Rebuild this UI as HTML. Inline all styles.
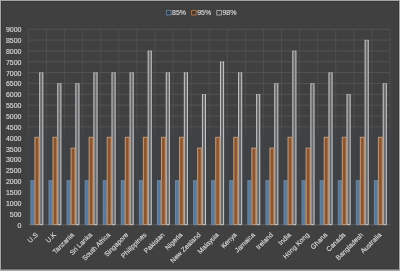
<!DOCTYPE html><html><head><meta charset="utf-8"><style>html,body{margin:0;padding:0;background:#404040;overflow:hidden}svg{display:block}text{font-family:"Liberation Sans",sans-serif}.xl{stroke:#d8d8d8;stroke-width:0.15px}</style></head><body>
<svg width="400" height="271" viewBox="0 0 400 271">
<defs><filter id="bl" x="-2%" y="-2%" width="104%" height="104%" color-interpolation-filters="sRGB"><feGaussianBlur stdDeviation="0.40"/></filter><filter id="sh" x="-20%" y="-5%" width="140%" height="110%"><feGaussianBlur stdDeviation="1.3"/></filter><linearGradient id="og" x1="0" x2="1" y1="0" y2="0"><stop offset="0" stop-color="#9a6a48"/><stop offset="0.3" stop-color="#8a552f"/><stop offset="0.55" stop-color="#87532e"/><stop offset="0.85" stop-color="#ab8060"/><stop offset="1" stop-color="#b08868"/></linearGradient></defs>
<rect width="400" height="271" fill="#404040"/>
<g filter="url(#bl)">
<path d="M28.40 29.20H390.00M28.40 40.05H390.00M28.40 50.90H390.00M28.40 61.75H390.00M28.40 72.60H390.00M28.40 83.45H390.00M28.40 94.30H390.00M28.40 105.15H390.00M28.40 116.00H390.00M28.40 126.85H390.00" stroke="#585858" stroke-width="0.80" fill="none"/>
<path d="M28.40 137.70H390.00M28.40 148.55H390.00M28.40 159.40H390.00M28.40 170.25H390.00M28.40 181.10H390.00M28.40 191.95H390.00M28.40 202.80H390.00M28.40 213.65H390.00M28.40 224.50H390.00" stroke="#4c4c4c" stroke-width="0.80" fill="none"/>
<path d="M28.40 29.20V224.50M46.48 29.20V224.50M64.56 29.20V224.50M82.64 29.20V224.50M100.72 29.20V224.50M118.80 29.20V224.50M136.88 29.20V224.50M154.96 29.20V224.50M173.04 29.20V224.50M191.12 29.20V224.50M209.20 29.20V224.50M227.28 29.20V224.50M245.36 29.20V224.50M263.44 29.20V224.50M281.52 29.20V224.50M299.60 29.20V224.50M317.68 29.20V224.50M335.76 29.20V224.50M353.84 29.20V224.50M371.92 29.20V224.50M390.00 29.20V224.50" stroke="#525252" stroke-width="0.80" fill="none"/>
<linearGradient id="tg" x1="0" x2="0" y1="0" y2="1"><stop offset="0" stop-color="#3f4246" stop-opacity="0"/><stop offset="0.093" stop-color="#3f4246" stop-opacity="0.85"/><stop offset="1" stop-color="#3f4246" stop-opacity="0.85"/></linearGradient>
<rect x="27.80" y="127.70" width="362.80" height="96.80" fill="url(#tg)"/>
<path d="M28.40 224.80H390.00" stroke="#5c5c5c" stroke-width="0.9"/>
<rect x="39.25" y="72.40" width="4.00" height="152.70" fill="#66686b"/>
<path d="M39.70 72.85H42.80" stroke="#9a9a9a" stroke-width="0.9"/>
<path d="M39.70 72.40V224.65M42.80 72.40V224.65H39.70" stroke="#d2d2d2" stroke-width="0.9" fill="none"/>
<rect x="34.90" y="137.30" width="4.50" height="87.30" fill="url(#og)" stroke="#c09878" stroke-width="1.00"/>
<rect x="30.90" y="180.70" width="3.10" height="43.90" fill="#56789a" stroke="#7088a2" stroke-width="1.00"/>
<rect x="33.80" y="180.70" width="1.10" height="44.40" fill="#8c8680"/>
<rect x="57.33" y="83.25" width="4.00" height="141.85" fill="#66686b"/>
<path d="M57.78 83.70H60.88" stroke="#9a9a9a" stroke-width="0.9"/>
<path d="M57.78 83.25V224.65M60.88 83.25V224.65H57.78" stroke="#d2d2d2" stroke-width="0.9" fill="none"/>
<rect x="52.98" y="137.30" width="4.50" height="87.30" fill="url(#og)" stroke="#c09878" stroke-width="1.00"/>
<rect x="48.98" y="180.70" width="3.10" height="43.90" fill="#56789a" stroke="#7088a2" stroke-width="1.00"/>
<rect x="51.88" y="180.70" width="1.10" height="44.40" fill="#8c8680"/>
<rect x="75.41" y="83.25" width="4.00" height="141.85" fill="#66686b"/>
<path d="M75.86 83.70H78.96" stroke="#9a9a9a" stroke-width="0.9"/>
<path d="M75.86 83.25V224.65M78.96 83.25V224.65H75.86" stroke="#d2d2d2" stroke-width="0.9" fill="none"/>
<rect x="71.06" y="148.15" width="4.50" height="76.45" fill="url(#og)" stroke="#c09878" stroke-width="1.00"/>
<rect x="67.06" y="180.70" width="3.10" height="43.90" fill="#56789a" stroke="#7088a2" stroke-width="1.00"/>
<rect x="69.96" y="180.70" width="1.10" height="44.40" fill="#8c8680"/>
<rect x="93.49" y="72.40" width="4.00" height="152.70" fill="#66686b"/>
<path d="M93.94 72.85H97.04" stroke="#9a9a9a" stroke-width="0.9"/>
<path d="M93.94 72.40V224.65M97.04 72.40V224.65H93.94" stroke="#d2d2d2" stroke-width="0.9" fill="none"/>
<rect x="89.14" y="137.30" width="4.50" height="87.30" fill="url(#og)" stroke="#c09878" stroke-width="1.00"/>
<rect x="85.14" y="180.70" width="3.10" height="43.90" fill="#56789a" stroke="#7088a2" stroke-width="1.00"/>
<rect x="88.04" y="180.70" width="1.10" height="44.40" fill="#8c8680"/>
<rect x="111.57" y="72.40" width="4.00" height="152.70" fill="#66686b"/>
<path d="M112.02 72.85H115.12" stroke="#9a9a9a" stroke-width="0.9"/>
<path d="M112.02 72.40V224.65M115.12 72.40V224.65H112.02" stroke="#d2d2d2" stroke-width="0.9" fill="none"/>
<rect x="107.22" y="137.30" width="4.50" height="87.30" fill="url(#og)" stroke="#c09878" stroke-width="1.00"/>
<rect x="103.22" y="180.70" width="3.10" height="43.90" fill="#56789a" stroke="#7088a2" stroke-width="1.00"/>
<rect x="106.12" y="180.70" width="1.10" height="44.40" fill="#8c8680"/>
<rect x="129.65" y="72.40" width="4.00" height="152.70" fill="#66686b"/>
<path d="M130.10 72.85H133.20" stroke="#9a9a9a" stroke-width="0.9"/>
<path d="M130.10 72.40V224.65M133.20 72.40V224.65H130.10" stroke="#d2d2d2" stroke-width="0.9" fill="none"/>
<rect x="125.30" y="137.30" width="4.50" height="87.30" fill="url(#og)" stroke="#c09878" stroke-width="1.00"/>
<rect x="121.30" y="180.70" width="3.10" height="43.90" fill="#56789a" stroke="#7088a2" stroke-width="1.00"/>
<rect x="124.20" y="180.70" width="1.10" height="44.40" fill="#8c8680"/>
<rect x="147.73" y="50.70" width="4.00" height="174.40" fill="#66686b"/>
<path d="M148.18 51.15H151.28" stroke="#9a9a9a" stroke-width="0.9"/>
<path d="M148.18 50.70V224.65M151.28 50.70V224.65H148.18" stroke="#d2d2d2" stroke-width="0.9" fill="none"/>
<rect x="143.38" y="137.30" width="4.50" height="87.30" fill="url(#og)" stroke="#c09878" stroke-width="1.00"/>
<rect x="139.38" y="180.70" width="3.10" height="43.90" fill="#56789a" stroke="#7088a2" stroke-width="1.00"/>
<rect x="142.28" y="180.70" width="1.10" height="44.40" fill="#8c8680"/>
<rect x="165.81" y="72.40" width="4.00" height="152.70" fill="#66686b"/>
<path d="M166.26 72.85H169.36" stroke="#9a9a9a" stroke-width="0.9"/>
<path d="M166.26 72.40V224.65M169.36 72.40V224.65H166.26" stroke="#d2d2d2" stroke-width="0.9" fill="none"/>
<rect x="161.46" y="137.30" width="4.50" height="87.30" fill="url(#og)" stroke="#c09878" stroke-width="1.00"/>
<rect x="157.46" y="180.70" width="3.10" height="43.90" fill="#56789a" stroke="#7088a2" stroke-width="1.00"/>
<rect x="160.36" y="180.70" width="1.10" height="44.40" fill="#8c8680"/>
<rect x="183.89" y="72.40" width="4.00" height="152.70" fill="#66686b"/>
<path d="M184.34 72.85H187.44" stroke="#9a9a9a" stroke-width="0.9"/>
<path d="M184.34 72.40V224.65M187.44 72.40V224.65H184.34" stroke="#d2d2d2" stroke-width="0.9" fill="none"/>
<rect x="179.54" y="137.30" width="4.50" height="87.30" fill="url(#og)" stroke="#c09878" stroke-width="1.00"/>
<rect x="175.54" y="180.70" width="3.10" height="43.90" fill="#56789a" stroke="#7088a2" stroke-width="1.00"/>
<rect x="178.44" y="180.70" width="1.10" height="44.40" fill="#8c8680"/>
<rect x="201.97" y="94.10" width="4.00" height="131.00" fill="#66686b"/>
<path d="M202.42 94.55H205.52" stroke="#9a9a9a" stroke-width="0.9"/>
<path d="M202.42 94.10V224.65M205.52 94.10V224.65H202.42" stroke="#d2d2d2" stroke-width="0.9" fill="none"/>
<rect x="197.62" y="148.15" width="4.50" height="76.45" fill="url(#og)" stroke="#c09878" stroke-width="1.00"/>
<rect x="193.62" y="180.70" width="3.10" height="43.90" fill="#56789a" stroke="#7088a2" stroke-width="1.00"/>
<rect x="196.52" y="180.70" width="1.10" height="44.40" fill="#8c8680"/>
<rect x="220.05" y="61.55" width="4.00" height="163.55" fill="#66686b"/>
<path d="M220.50 62.00H223.60" stroke="#9a9a9a" stroke-width="0.9"/>
<path d="M220.50 61.55V224.65M223.60 61.55V224.65H220.50" stroke="#d2d2d2" stroke-width="0.9" fill="none"/>
<rect x="215.70" y="137.30" width="4.50" height="87.30" fill="url(#og)" stroke="#c09878" stroke-width="1.00"/>
<rect x="211.70" y="180.70" width="3.10" height="43.90" fill="#56789a" stroke="#7088a2" stroke-width="1.00"/>
<rect x="214.60" y="180.70" width="1.10" height="44.40" fill="#8c8680"/>
<rect x="238.13" y="72.40" width="4.00" height="152.70" fill="#66686b"/>
<path d="M238.58 72.85H241.68" stroke="#9a9a9a" stroke-width="0.9"/>
<path d="M238.58 72.40V224.65M241.68 72.40V224.65H238.58" stroke="#d2d2d2" stroke-width="0.9" fill="none"/>
<rect x="233.78" y="137.30" width="4.50" height="87.30" fill="url(#og)" stroke="#c09878" stroke-width="1.00"/>
<rect x="229.78" y="180.70" width="3.10" height="43.90" fill="#56789a" stroke="#7088a2" stroke-width="1.00"/>
<rect x="232.68" y="180.70" width="1.10" height="44.40" fill="#8c8680"/>
<rect x="256.21" y="94.10" width="4.00" height="131.00" fill="#66686b"/>
<path d="M256.66 94.55H259.76" stroke="#9a9a9a" stroke-width="0.9"/>
<path d="M256.66 94.10V224.65M259.76 94.10V224.65H256.66" stroke="#d2d2d2" stroke-width="0.9" fill="none"/>
<rect x="251.86" y="148.15" width="4.50" height="76.45" fill="url(#og)" stroke="#c09878" stroke-width="1.00"/>
<rect x="247.86" y="180.70" width="3.10" height="43.90" fill="#56789a" stroke="#7088a2" stroke-width="1.00"/>
<rect x="250.76" y="180.70" width="1.10" height="44.40" fill="#8c8680"/>
<rect x="274.29" y="83.25" width="4.00" height="141.85" fill="#66686b"/>
<path d="M274.74 83.70H277.84" stroke="#9a9a9a" stroke-width="0.9"/>
<path d="M274.74 83.25V224.65M277.84 83.25V224.65H274.74" stroke="#d2d2d2" stroke-width="0.9" fill="none"/>
<rect x="269.94" y="148.15" width="4.50" height="76.45" fill="url(#og)" stroke="#c09878" stroke-width="1.00"/>
<rect x="265.94" y="180.70" width="3.10" height="43.90" fill="#56789a" stroke="#7088a2" stroke-width="1.00"/>
<rect x="268.84" y="180.70" width="1.10" height="44.40" fill="#8c8680"/>
<rect x="292.37" y="50.70" width="4.00" height="174.40" fill="#66686b"/>
<path d="M292.82 51.15H295.92" stroke="#9a9a9a" stroke-width="0.9"/>
<path d="M292.82 50.70V224.65M295.92 50.70V224.65H292.82" stroke="#d2d2d2" stroke-width="0.9" fill="none"/>
<rect x="288.02" y="137.30" width="4.50" height="87.30" fill="url(#og)" stroke="#c09878" stroke-width="1.00"/>
<rect x="284.02" y="180.70" width="3.10" height="43.90" fill="#56789a" stroke="#7088a2" stroke-width="1.00"/>
<rect x="286.92" y="180.70" width="1.10" height="44.40" fill="#8c8680"/>
<rect x="310.45" y="83.25" width="4.00" height="141.85" fill="#66686b"/>
<path d="M310.90 83.70H314.00" stroke="#9a9a9a" stroke-width="0.9"/>
<path d="M310.90 83.25V224.65M314.00 83.25V224.65H310.90" stroke="#d2d2d2" stroke-width="0.9" fill="none"/>
<rect x="306.10" y="148.15" width="4.50" height="76.45" fill="url(#og)" stroke="#c09878" stroke-width="1.00"/>
<rect x="302.10" y="180.70" width="3.10" height="43.90" fill="#56789a" stroke="#7088a2" stroke-width="1.00"/>
<rect x="305.00" y="180.70" width="1.10" height="44.40" fill="#8c8680"/>
<rect x="328.53" y="72.40" width="4.00" height="152.70" fill="#66686b"/>
<path d="M328.98 72.85H332.08" stroke="#9a9a9a" stroke-width="0.9"/>
<path d="M328.98 72.40V224.65M332.08 72.40V224.65H328.98" stroke="#d2d2d2" stroke-width="0.9" fill="none"/>
<rect x="324.18" y="137.30" width="4.50" height="87.30" fill="url(#og)" stroke="#c09878" stroke-width="1.00"/>
<rect x="320.18" y="180.70" width="3.10" height="43.90" fill="#56789a" stroke="#7088a2" stroke-width="1.00"/>
<rect x="323.08" y="180.70" width="1.10" height="44.40" fill="#8c8680"/>
<rect x="346.61" y="94.10" width="4.00" height="131.00" fill="#66686b"/>
<path d="M347.06 94.55H350.16" stroke="#9a9a9a" stroke-width="0.9"/>
<path d="M347.06 94.10V224.65M350.16 94.10V224.65H347.06" stroke="#d2d2d2" stroke-width="0.9" fill="none"/>
<rect x="342.26" y="137.30" width="4.50" height="87.30" fill="url(#og)" stroke="#c09878" stroke-width="1.00"/>
<rect x="338.26" y="180.70" width="3.10" height="43.90" fill="#56789a" stroke="#7088a2" stroke-width="1.00"/>
<rect x="341.16" y="180.70" width="1.10" height="44.40" fill="#8c8680"/>
<rect x="364.69" y="39.85" width="4.00" height="185.25" fill="#66686b"/>
<path d="M365.14 40.30H368.24" stroke="#9a9a9a" stroke-width="0.9"/>
<path d="M365.14 39.85V224.65M368.24 39.85V224.65H365.14" stroke="#d2d2d2" stroke-width="0.9" fill="none"/>
<rect x="360.34" y="137.30" width="4.50" height="87.30" fill="url(#og)" stroke="#c09878" stroke-width="1.00"/>
<rect x="356.34" y="180.70" width="3.10" height="43.90" fill="#56789a" stroke="#7088a2" stroke-width="1.00"/>
<rect x="359.24" y="180.70" width="1.10" height="44.40" fill="#8c8680"/>
<rect x="382.77" y="83.25" width="4.00" height="141.85" fill="#66686b"/>
<path d="M383.22 83.70H386.32" stroke="#9a9a9a" stroke-width="0.9"/>
<path d="M383.22 83.25V224.65M386.32 83.25V224.65H383.22" stroke="#d2d2d2" stroke-width="0.9" fill="none"/>
<rect x="378.42" y="137.30" width="4.50" height="87.30" fill="url(#og)" stroke="#c09878" stroke-width="1.00"/>
<rect x="374.42" y="180.70" width="3.10" height="43.90" fill="#56789a" stroke="#7088a2" stroke-width="1.00"/>
<rect x="377.32" y="180.70" width="1.10" height="44.40" fill="#8c8680"/>
<text x="21.5" y="32.20" class="xl" font-size="7" fill="#d8d8d8" text-anchor="end">9000</text>
<text x="21.5" y="43.05" class="xl" font-size="7" fill="#d8d8d8" text-anchor="end">8500</text>
<text x="21.5" y="53.90" class="xl" font-size="7" fill="#d8d8d8" text-anchor="end">8000</text>
<text x="21.5" y="64.75" class="xl" font-size="7" fill="#d8d8d8" text-anchor="end">7500</text>
<text x="21.5" y="75.60" class="xl" font-size="7" fill="#d8d8d8" text-anchor="end">7000</text>
<text x="21.5" y="86.45" class="xl" font-size="7" fill="#d8d8d8" text-anchor="end">6500</text>
<text x="21.5" y="97.30" class="xl" font-size="7" fill="#d8d8d8" text-anchor="end">6000</text>
<text x="21.5" y="108.15" class="xl" font-size="7" fill="#d8d8d8" text-anchor="end">5500</text>
<text x="21.5" y="119.00" class="xl" font-size="7" fill="#d8d8d8" text-anchor="end">5000</text>
<text x="21.5" y="129.85" class="xl" font-size="7" fill="#d8d8d8" text-anchor="end">4500</text>
<text x="21.5" y="140.70" class="xl" font-size="7" fill="#d8d8d8" text-anchor="end">4000</text>
<text x="21.5" y="151.55" class="xl" font-size="7" fill="#d8d8d8" text-anchor="end">3500</text>
<text x="21.5" y="162.40" class="xl" font-size="7" fill="#d8d8d8" text-anchor="end">3000</text>
<text x="21.5" y="173.25" class="xl" font-size="7" fill="#d8d8d8" text-anchor="end">2500</text>
<text x="21.5" y="184.10" class="xl" font-size="7" fill="#d8d8d8" text-anchor="end">2000</text>
<text x="21.5" y="194.95" class="xl" font-size="7" fill="#d8d8d8" text-anchor="end">1500</text>
<text x="21.5" y="205.80" class="xl" font-size="7" fill="#d8d8d8" text-anchor="end">1000</text>
<text x="21.5" y="216.65" class="xl" font-size="7" fill="#d8d8d8" text-anchor="end">500</text>
<text x="21.5" y="227.50" class="xl" font-size="7" fill="#d8d8d8" text-anchor="end">0</text>
<text transform="translate(38.34 235.3) rotate(-45)" class="xl" font-size="6.75" fill="#d8d8d8" text-anchor="end">U.S</text>
<text transform="translate(56.42 235.3) rotate(-45)" class="xl" font-size="6.75" fill="#d8d8d8" text-anchor="end">U.K</text>
<text transform="translate(74.50 235.3) rotate(-45)" class="xl" font-size="6.75" fill="#d8d8d8" text-anchor="end">Tanzania</text>
<text transform="translate(92.58 235.3) rotate(-45)" class="xl" font-size="6.75" fill="#d8d8d8" text-anchor="end">Sri Lanka</text>
<text transform="translate(110.66 235.3) rotate(-45)" class="xl" font-size="6.75" fill="#d8d8d8" text-anchor="end">South Africa</text>
<text transform="translate(128.74 235.3) rotate(-45)" class="xl" font-size="6.75" fill="#d8d8d8" text-anchor="end">Singapore</text>
<text transform="translate(146.82 235.3) rotate(-45)" class="xl" font-size="6.75" fill="#d8d8d8" text-anchor="end">Philippines</text>
<text transform="translate(164.90 235.3) rotate(-45)" class="xl" font-size="6.75" fill="#d8d8d8" text-anchor="end">Pakistan</text>
<text transform="translate(182.98 235.3) rotate(-45)" class="xl" font-size="6.75" fill="#d8d8d8" text-anchor="end">Nigeria</text>
<text transform="translate(201.06 235.3) rotate(-45)" class="xl" font-size="6.75" fill="#d8d8d8" text-anchor="end">New Zealand</text>
<text transform="translate(219.14 235.3) rotate(-45)" class="xl" font-size="6.75" fill="#d8d8d8" text-anchor="end">Malaysia</text>
<text transform="translate(237.22 235.3) rotate(-45)" class="xl" font-size="6.75" fill="#d8d8d8" text-anchor="end">Kenya</text>
<text transform="translate(255.30 235.3) rotate(-45)" class="xl" font-size="6.75" fill="#d8d8d8" text-anchor="end">Jamaica</text>
<text transform="translate(273.38 235.3) rotate(-45)" class="xl" font-size="6.75" fill="#d8d8d8" text-anchor="end">Ireland</text>
<text transform="translate(291.46 235.3) rotate(-45)" class="xl" font-size="6.75" fill="#d8d8d8" text-anchor="end">India</text>
<text transform="translate(309.54 235.3) rotate(-45)" class="xl" font-size="6.75" fill="#d8d8d8" text-anchor="end">Hong Kong</text>
<text transform="translate(327.62 235.3) rotate(-45)" class="xl" font-size="6.75" fill="#d8d8d8" text-anchor="end">Ghana</text>
<text transform="translate(345.70 235.3) rotate(-45)" class="xl" font-size="6.75" fill="#d8d8d8" text-anchor="end">Canada</text>
<text transform="translate(363.78 235.3) rotate(-45)" class="xl" font-size="6.75" fill="#d8d8d8" text-anchor="end">Bangladesh</text>
<text transform="translate(381.86 235.3) rotate(-45)" class="xl" font-size="6.75" fill="#d8d8d8" text-anchor="end">Australia</text>
<rect x="166.40" y="10.4" width="4.6" height="4.6" fill="#343e48" stroke="#5f7f9f" stroke-width="0.9"/>
<text x="172.00" y="15.3" class="xl" font-size="7" fill="#d8d8d8">85%</text>
<rect x="191.60" y="10.4" width="4.6" height="4.6" fill="#4a382a" stroke="#b07445" stroke-width="0.9"/>
<text x="197.20" y="15.3" class="xl" font-size="7" fill="#d8d8d8">95%</text>
<rect x="216.80" y="10.4" width="4.6" height="4.6" fill="#404040" stroke="#b0b0b0" stroke-width="0.9"/>
<text x="222.40" y="15.3" class="xl" font-size="7" fill="#d8d8d8">98%</text>
</g>
<rect x="0" y="1" width="400" height="1" fill="#383838"/>
<rect x="1" y="0" width="1" height="271" fill="#383838"/>
<rect x="398" y="0" width="1" height="271" fill="#383838"/>
<rect x="0" y="268" width="400" height="1.4" fill="#383838"/>
<rect x="0" y="0" width="400" height="1" fill="#a4a4a4"/>
<rect x="0" y="0" width="1" height="271" fill="#a8a8a8"/>
<rect x="399" y="0" width="1" height="271" fill="#a8a8a8"/>
<rect x="0" y="269.4" width="400" height="1.6" fill="#a8a8a8"/>
</svg></body></html>
